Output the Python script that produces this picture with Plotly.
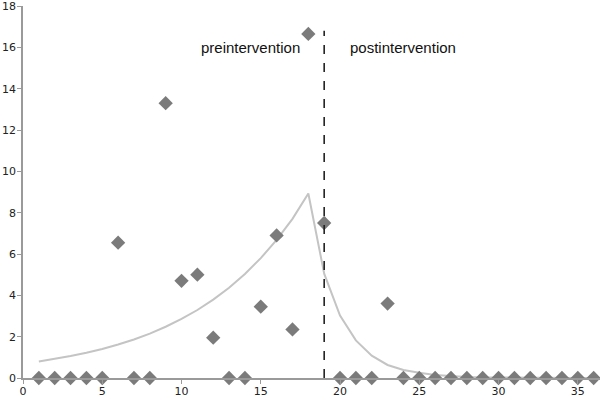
import plotly.graph_objects as go

months = list(range(1, 37))
observed = [0, 0, 0, 0, 0, 6.55, 0, 0, 13.3, 4.7, 5.0, 1.95, 0, 0, 3.45, 6.9, 2.35, 16.65,
            7.5, 0, 0, 0, 3.6, 0, 0, 0, 0, 0, 0, 0, 0, 0, 0, 0, 0, 0]
fitted = [0.80, 0.92, 1.06, 1.22, 1.40, 1.62, 1.86, 2.15, 2.48, 2.86, 3.29, 3.79, 4.37, 5.03,
          5.80, 6.68, 7.70, 8.93, 5.05, 3.02, 1.82, 1.08, 0.63, 0.39, 0.25, 0.15, 0.09, 0.05,
          0.03, 0.02, 0.01, 0.01, 0.01, 0.0, 0.0, 0.0]
intervention_x = 19
x_ticks = [0, 5, 10, 15, 20, 25, 30, 35]
y_ticks = [0, 2, 4, 6, 8, 10, 12, 14, 16, 18]

fig = go.Figure()
fig.add_trace(go.Scatter(x=months, y=fitted, mode="lines",
                         line=dict(color="#c4c4c4", width=2), hoverinfo="skip"))
fig.add_trace(go.Scatter(x=months, y=observed, mode="markers", cliponaxis=False,
                         marker=dict(symbol="diamond", size=11, color="#7b7b7b")))
fig.add_shape(type="line", x0=intervention_x, x1=intervention_x, y0=0, y1=16.8,
              xref="x", yref="y", line=dict(color="#222222", width=1.6, dash="dash"))
fig.add_annotation(x=intervention_x - 1.4, y=16, xref="x", yref="y", text="preintervention",
                   showarrow=False, xanchor="right", yanchor="middle",
                   font=dict(family="Liberation Sans, Arial", size=15, color="#111111"))
fig.add_annotation(x=intervention_x + 1.5, y=16, xref="x", yref="y", text="postintervention",
                   showarrow=False, xanchor="left", yanchor="middle",
                   font=dict(family="Liberation Sans, Arial", size=15, color="#111111"))

fig.update_layout(
    width=600, height=403, showlegend=False,
    paper_bgcolor="white", plot_bgcolor="white",
    margin=dict(l=23, r=0, t=6, b=25, autoexpand=False),
    font=dict(family="DejaVu Sans", size=11, color="#222222"),
)
fig.update_xaxes(range=[0, 36.4], tickvals=x_ticks, showgrid=False, zeroline=False,
                 automargin=False, showline=True, linecolor="#9a9a9a", linewidth=1.5,
                 ticks="outside", ticklen=4, tickcolor="#9a9a9a", ticklabelstandoff=-2,
                 ticklabeloverflow="allow")
fig.update_yaxes(range=[0, 18], tickvals=y_ticks, showgrid=False, zeroline=False,
                 automargin=False, showline=True, linecolor="#9a9a9a", linewidth=1.5,
                 ticks="outside", ticklen=4, tickcolor="#9a9a9a", ticklabelstandoff=-1,
                 ticklabeloverflow="allow")

fig.write_html("out.html", config={"displayModeBar": False},
               post_script="document.body.style.margin='0';")
